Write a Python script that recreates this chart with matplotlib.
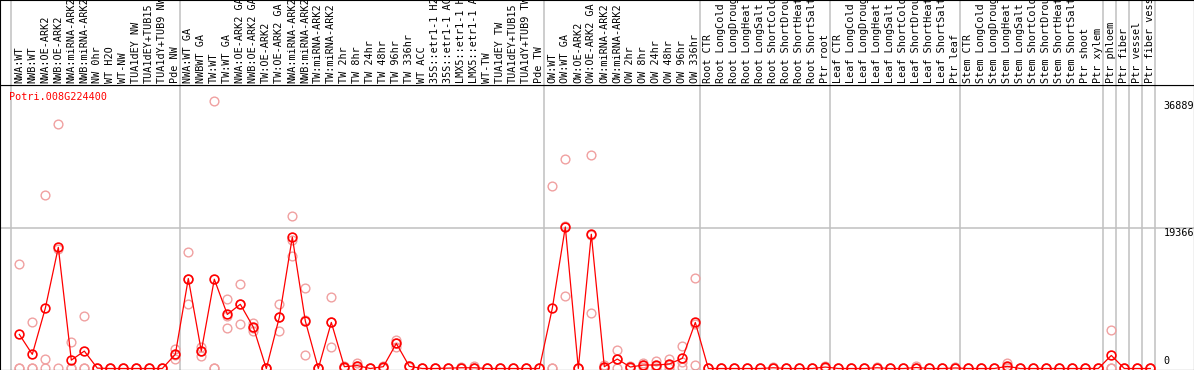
import matplotlib
matplotlib.use("Agg")
import matplotlib.pyplot as plt
import matplotlib.transforms as mtransforms

# sample names, in plotting order
samples = [
    # group 1
    "NWA:WT", "NWB:WT", "NWA:OE-ARK2", "NWB:OE-ARK2", "NWA:miRNA-ARK2", "NWB:miRNA-ARK2",
    "NW 0hr", "WT H2O", "WT-NW", "TUA1dEY NW", "TUA1dEY+TUB15", "TUA1dY+TUB9 NW", "Pde NW",
    # group 2
    "NWA:WT GA", "NWBWT GA", "TW:WT", "TW:WT GA", "NWA:OE-ARK2 GA", "NWB:OE-ARK2 GA",
    "TW:OE-ARK2", "TW:OE-ARK2 GA", "NWA:miRNA-ARK2", "NWB:miRNA-ARK2", "TW:miRNA-ARK2",
    "TW:miRNA-ARK2", "TW 2hr", "TW 8hr", "TW 24hr", "TW 48hr", "TW 96hr", "TW 336hr", "WT ACC",
    "35S::etr1-1 H2O", "35S::etr1-1 ACC", "LMX5::etr1-1 H2O", "LMX5::etr1-1 ACC", "WT-TW",
    "TUA1dEY TW", "TUA1dEY+TUB15", "TUA1dY+TUB9 TW", "Pde TW",
    # group 3
    "OW:WT", "OW:WT GA", "OW:OE-ARK2", "OW:OE-ARK2 GA", "OW:miRNA-ARK2", "OW:miRNA-ARK2",
    "OW 2hr", "OW 8hr", "OW 24hr", "OW 48hr", "OW 96hr", "OW 336hr",
    # root
    "Root CTR", "Root LongCold", "Root LongDrought", "Root LongHeat", "Root LongSalt",
    "Root ShortCold", "Root ShortDrought", "Root ShortHeat", "Root ShortSalt", "Ptr root",
    # leaf
    "Leaf CTR", "Leaf LongCold", "Leaf LongDrought", "Leaf LongHeat", "Leaf LongSalt",
    "Leaf ShortCold", "Leaf ShortDrought", "Leaf ShortHeat", "Leaf ShortSalt", "Ptr leaf",
    # stem
    "Stem CTR", "Stem LongCold", "Stem LongDrought", "Stem LongHeat", "Stem LongSalt",
    "Stem ShortCold", "Stem ShortDrought", "Stem ShortHeat", "Stem ShortSalt", "Ptr shoot",
    "Ptr xylem",
    # single tissues
    "Ptr phloem", "Ptr fiber", "Ptr vessel", "Ptr fiber vessel",
]
group_sizes = [13, 28, 12, 10, 10, 11, 1, 1, 1, 1]

gene = "Potri.008G224400"
y_marks = [36889, 19366, 0]

# mean expression per sample
means = [
    4700, 1950, 8300, 16700, 1150, 2400, 50, 0, 0, 0, 0, 0, 1950,
    12400, 2400, 12300, 7450, 8850, 5700, 0, 7050, 18100, 6550, 0, 6350, 250, 400, 0, 250,
    3450, 300, 0, 0, 50, 100, 100, 0, 0, 0, 0, 0,
    8300, 19500, 0, 18500, 250, 1300, 200, 480, 480, 620, 1400, 6350,
    0, 0, 0, 0, 0, 100, 0, 0, 0, 200,
    0, 0, 0, 100, 0, 0, 130, 0, 0, 70,
    0, 0, 0, 300, 0, 0, 0, 0, 0, 0, 0,
    1800, 0, 0, 0,
]

# replicate values per sample
rep_hi = [
    14360, 6370, 23900, 33700, 3600, 7280, 0, 0, 0, 0, 0, 0, 2700,
    16000, 3000, 36889, 9580, 11600, 6310, 0, 8850, 21000, 11050, 0, 9810, 400, 700, 0, 400,
    3930, 400, 0, 0, 100, 200, 300, 0, 0, 0, 0, 0,
    25190, 28830, 0, 29380, 500, 2550, 300, 800, 1080, 1270, 3100, 12430,
    0, 0, 0, 0, 0, 200, 0, 0, 0, 400,
    0, 0, 0, 200, 0, 0, 400, 0, 0, 200,
    0, 0, 0, 700, 0, 0, 0, 0, 0, 0, 0,
    5260, 0, 0, 0,
]
rep_mid = [
    0, 0, 1300, 16400, 0, 0, 0, 0, 0, 0, 0, 0, 1900,
    12400, 2400, 0, 7300, 8850, 5600, 0, 7100, 17700, 6700, 0, 6400, 250, 400, 0, 250,
    3450, 300, 0, 0, 50, 100, 0, 0, 0, 0, 0, 0,
    0, 19600, 0, 18400, 250, 1300, 200, 480, 300, 500, 900, 6100,
    0, 0, 0, 0, 0, 100, 0, 0, 0, 200,
    0, 0, 0, 100, 0, 0, 0, 0, 0, 0,
    0, 0, 0, 200, 0, 0, 0, 0, 0, 0, 0,
    100, 0, 0, 0,
]
rep_lo = [
    0, 0, 0, 0, 0, 0, 0, 0, 0, 0, 0, 0, 1250,
    8850, 1770, 0, 5540, 6130, 5210, 0, 5170, 15500, 1860, 0, 2920, 100, 100, 0, 100,
    3000, 200, 0, 0, 0, 0, 0, 0, 0, 0, 0, 0,
    0, 9950, 0, 7650, 0, 0, 100, 150, 50, 100, 200, 480,
    0, 0, 0, 0, 0, 0, 0, 0, 0, 0,
    0, 0, 0, 0, 0, 0, 0, 0, 0, 0,
    0, 0, 0, 0, 0, 0, 0, 0, 0, 0, 0,
    0, 0, 0, 0,
]

plt.rcParams['font.family'] = ['DejaVu Sans Mono']
W, H = 1194, 370
head = 85
fig = plt.figure(figsize=(W / 100, H / 100), dpi=100)

xs = list(range(len(samples)))
xlim = (-1.485, 90.36)
ylim = (-207, 39066)
frame_lw = 0.8

# plot area
ax = fig.add_axes([0, 0, 1, (H - head) / H])
ax.set_xlim(*xlim)
ax.set_ylim(*ylim)
ax.set_xticks([])
ax.set_yticks([])
for s in ax.spines.values():
    s.set_color("black")
    s.set_linewidth(frame_lw)

# header with sample names
axh = fig.add_axes([0, (H - head) / H, 1, head / H])
axh.set_xlim(*xlim)
axh.set_ylim(0, 1)
axh.set_xticks([])
axh.set_yticks([])
for s in axh.spines.values():
    s.set_color("black")
    s.set_linewidth(frame_lw)

# group separators
edges = [0]
for g in group_sizes:
    edges.append(edges[-1] + g)
for e in edges:
    ax.axvline(e - 0.66, color="#c0c0c0", lw=1.1, zorder=0)
    axh.axvline(e - 0.66, color="#c0c0c0", lw=1.1, zorder=0)

ax.axhline(y_marks[1], color="#c0c0c0", lw=1.1, zorder=0)

trans = mtransforms.blended_transform_factory(axh.transData, axh.transAxes)
for x, name in zip(xs, samples):
    axh.text(x, 0.025, name, rotation=90, ha="center", va="bottom",
             fontsize=7.3, transform=trans)

# replicates
for reps in (rep_hi, rep_mid, rep_lo):
    ax.plot(xs, reps, linestyle="none", marker="o", ms=6.3, mfc="none",
            mec="#f0a0a0", mew=1.0, zorder=2)

# mean profile
ax.plot(xs, means, color="red", lw=0.9, marker="o", ms=6.3, mfc="none",
        mec="red", mew=1.2, zorder=3)

# value labels on the right
for v in y_marks:
    va = "bottom" if v == 0 else "top"
    ax.text(88.0, v + (300 if v == 0 else 0), str(v), ha="left", va=va, fontsize=7.3)

fig.text(9.5 / W, 1 - 97.5 / H, gene, color="red", fontsize=7.3, ha="left", va="center")

fig.savefig("out.png", dpi=100)
